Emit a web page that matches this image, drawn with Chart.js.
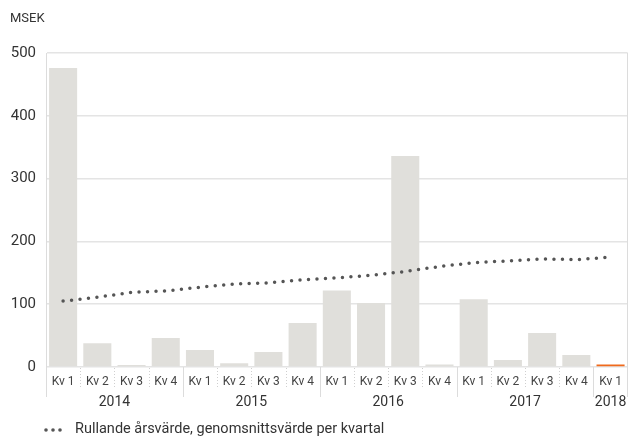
<!DOCTYPE html>
<html>
<head>
<meta charset="utf-8">
<script src="https://cdn.jsdelivr.net/npm/chart.js@4"></script>
<style>
  html, body { margin: 0; padding: 0; background: #fff; }
  #wrap { width: 630px; height: 441px; position: relative; }
</style>
</head>
<body>
<div id="wrap"><canvas id="chart"></canvas></div>
<script>
// ─── Data ────────────────────────────────────────────────────────────────────

const quarters = ["Kv 1", "Kv 2", "Kv 3", "Kv 4", "Kv 1", "Kv 2", "Kv 3", "Kv 4",
                  "Kv 1", "Kv 2", "Kv 3", "Kv 4", "Kv 1", "Kv 2", "Kv 3", "Kv 4", "Kv 1"];
const years     = ["2014", "2015", "2016", "2017", "2018"];
const yearSpans = [4, 4, 4, 4, 1];

// quarterly value (MSEK)
const quarterValues = [476, 38, 3, 46, 27, 6, 24, 70, 122, 102, 336, 4, 108, 11, 54, 19, 4];
// rolling annual value, average per quarter
const rollingValues = [105, 111, 119, 121, 127, 132, 134, 139, 142, 146, 152, 160, 166, 169, 172, 171, 175];

const yTicks = [0, 100, 200, 300, 400, 500];

const UNIT_LABEL   = "MSEK";
const LEGEND_LABEL = "Rullande årsvärde, genomsnittsvärde per kvartal";

// ─── Colors ──────────────────────────────────────────────────────────────────

const COLOR_BAR    = "#e0dfdb";
const COLOR_LATEST = "#f06a1c";
const COLOR_LINE   = "#555555";
const COLOR_GRID   = "#e4e4e4";
const COLOR_TEXT   = "#333333";
const FONT         = "Roboto";

const barColors = quarterValues.map((v, i) => i === quarterValues.length - 1 ? COLOR_LATEST : COLOR_BAR);

// ─── Plugin: group separators, year labels, unit and legend ──────────────────

const decorations = {
  id: "decorations",
  afterDraw(chart) {
    const ctx = chart.ctx;
    const x = chart.scales.x;
    const area = chart.chartArea;
    const n = quarters.length;
    const edge = i => {
      if (i <= 0) return area.left;
      if (i >= n) return area.right;
      return (x.getPixelForValue(i - 1) + x.getPixelForValue(i)) / 2;
    };

    ctx.save();

    // dotted separators between quarters
    ctx.strokeStyle = "#cfcfcf";
    ctx.lineWidth = 1;
    ctx.setLineDash([1, 2]);
    for (let i = 1; i < n; i++) {
      const px = Math.round(edge(i)) + 0.5;
      ctx.beginPath();
      ctx.moveTo(px, area.bottom + 1);
      ctx.lineTo(px, area.bottom + 20);
      ctx.stroke();
    }
    ctx.setLineDash([]);

    // solid separators between years, plus frame sides
    ctx.strokeStyle = "#dcdcdc";
    ctx.lineWidth = 1;
    let start = 0;
    const bounds = [0];
    yearSpans.forEach(s => { start += s; bounds.push(start); });
    bounds.forEach((b, k) => {
      const px = Math.round(edge(b)) + (b >= n ? -0.5 : 0.5);
      const top = (k === 0 || b >= n) ? area.top : area.bottom;
      ctx.beginPath();
      ctx.moveTo(px, top);
      ctx.lineTo(px, area.bottom + 30);
      ctx.stroke();
    });

    // year labels centred under their quarters
    ctx.fillStyle = COLOR_TEXT;
    ctx.font = "14px " + FONT;
    ctx.textAlign = "center";
    ctx.textBaseline = "middle";
    let first = 0;
    years.forEach((yr, k) => {
      const last = first + yearSpans[k] - 1;
      const cx = (x.getPixelForValue(first) + x.getPixelForValue(last)) / 2;
      ctx.fillText(yr, cx, area.bottom + 35);
      first += yearSpans[k];
    });

    // unit label
    ctx.textAlign = "left";
    ctx.font = "13px " + FONT;
    ctx.fillText(UNIT_LABEL, 10, 19);

    // legend
    ctx.fillStyle = COLOR_LINE;
    [46, 53, 60].forEach(cx => {
      ctx.beginPath();
      ctx.arc(cx, 430, 1.8, 0, Math.PI * 2);
      ctx.fill();
    });
    ctx.fillStyle = COLOR_TEXT;
    ctx.font = "14.5px " + FONT;
    ctx.fillText(LEGEND_LABEL, 75, 429);

    ctx.restore();
  }
};

// ─── Chart ───────────────────────────────────────────────────────────────────

new Chart(document.getElementById("chart"), {
  type: "bar",
  data: {
    labels: quarters,
    datasets: [
      {
        type: "line",
        label: LEGEND_LABEL,
        data: rollingValues,
        borderColor: COLOR_LINE,
        borderWidth: 3.5,
        borderDash: [0, 8.5],
        borderCapStyle: "round",
        pointRadius: 0,
        tension: 0,
        order: 0
      },
      {
        label: "Kvartal",
        data: quarterValues,
        backgroundColor: barColors,
        borderWidth: 0,
        barPercentage: 0.82,
        categoryPercentage: 1,
        order: 1
      }
    ]
  },
  options: {
    responsive: true,
    maintainAspectRatio: false,
    animation: false,
    layout: { padding: { left: 0, right: 1, top: 53, bottom: 39 } },
    plugins: {
      legend: { display: false },
      tooltip: { enabled: false }
    },
    scales: {
      x: {
        grid: { display: false, drawTicks: false },
        border: { display: false },
        ticks: {
          autoSkip: false,
          maxRotation: 0,
          padding: 8,
          color: "#444",
          font: { family: FONT, size: 12 }
        },
        afterFit: s => { s.height = 35; }
      },
      y: {
        min: 0,
        max: 500,
        afterBuildTicks: s => { s.ticks = yTicks.map(v => ({ value: v })); },
        grid: { color: COLOR_GRID, lineWidth: 1.5, drawTicks: false },
        border: { display: true, color: "#dcdcdc" },
        ticks: {
          padding: 10,
          color: COLOR_TEXT,
          font: { family: FONT, size: 15 }
        },
        afterFit: s => { s.width = 46; }
      }
    }
  },
  plugins: [decorations]
});
</script>
</body>
</html>
